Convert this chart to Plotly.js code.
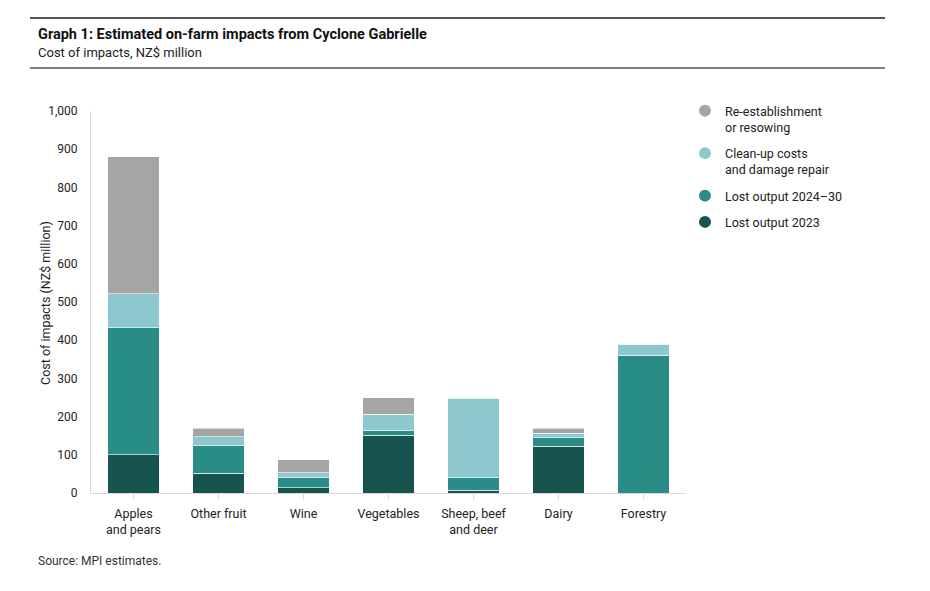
<!DOCTYPE html>
<html><head><meta charset="utf-8">
<script src="https://cdn.plot.ly/plotly-3.0.1.min.js"></script>
<style>body{margin:0;background:#fff}#c{width:930px;height:591px}</style>
</head><body><div id="c"></div>
<script>
const categories = ["Apples<br>and pears","Other fruit","Wine","Vegetables","Sheep, beef<br>and deer","Dairy","Forestry"];
const lostOutput2023 = [100, 52, 14, 151, 7, 122, 0];
const lostOutput2024_30 = [332, 72, 26, 12, 33, 23, 361];
const cleanUp = [89, 23, 13, 43, 208, 11, 29];
const reEstablishment = [359, 22, 34, 44, 0, 13, 0];
const seriesNames = ["Lost output 2023","Lost output 2024–30","Clean-up costs<br>and damage repair","Re-establishment<br>or resowing"];
const colors = ["#18544f","#2a8c86","#8cc8ce","#a5a5a5"];
const values = [lostOutput2023, lostOutput2024_30, cleanUp, reEstablishment];

const FONT = "Roboto, 'Noto Sans', sans-serif";
const traces = [];
values.forEach((v,i)=>{
  traces.push({type:'bar', x:categories, y:v, name:seriesNames[i], showlegend:false,
    marker:{color:colors[i], line:{color:'rgba(255,255,255,0.6)', width:1}}, hoverinfo:'x+y+name'});
});
// legend entries (circle markers), top-down = last series first
for (let i = values.length-1; i >= 0; i--) {
  traces.push({type:'scatter', mode:'markers', x:[null], y:[null], name:seriesNames[i], legendgroup:'g'+i,
    marker:{color:colors[i], size:12, symbol:'circle'}, showlegend:true, hoverinfo:'skip'});
}

const px = x => (x-91)/595;
const py = y => (493-y)/382;

const layout = {
  width:930, height:591,
  margin:{l:91, r:244, t:111, b:98},
  paper_bgcolor:'#fff', plot_bgcolor:'#fff',
  barmode:'stack', bargap:0.39,
  font:{family:FONT, size:12, color:'#222'},
  xaxis:{type:'category', showgrid:false, showline:true, linecolor:'#d9d9d9', linewidth:1,
    ticks:'outside', tickcolor:'#d9d9d9', ticklen:6, ticklabelstandoff:3, tickfont:{size:12.5, color:'#222'}, fixedrange:true},
  yaxis:{range:[0,1000], tickvals:[0,100,200,300,400,500,600,700,800,900,1000],
    ticktext:["0","100","200","300","400","500","600","700","800","900","1,000"],
    showgrid:false, zeroline:false, showline:true, linecolor:'#d9d9d9', linewidth:1, ticks:'',
    ticklabelstandoff:10,
    tickfont:{size:12, color:'#222'}},
  legend:{x:px(685), y:py(96), xanchor:'left', yanchor:'top', traceorder:'grouped', valign:'top',
    font:{size:12.5, color:'#222'}, itemwidth:30, tracegroupgap:7, bgcolor:'rgba(0,0,0,0)'},
  shapes:[
    {type:'line', xref:'paper', yref:'paper', x0:px(30), x1:px(885), y0:py(18), y1:py(18), line:{color:'#555', width:2}},
    {type:'line', xref:'paper', yref:'paper', x0:px(30), x1:px(885), y0:py(68), y1:py(68), line:{color:'#555', width:1.5}}
  ],
  annotations:[
    {xref:'paper', yref:'paper', x:px(36), y:py(35), xanchor:'left', yanchor:'middle', showarrow:false,
      text:'<b>Graph 1: Estimated on-farm impacts from Cyclone Gabrielle</b>', font:{size:14.5, color:'#111'}},
    {xref:'paper', yref:'paper', x:px(36), y:py(53), xanchor:'left', yanchor:'middle', showarrow:false,
      text:'Cost of impacts, NZ$ million', font:{size:13, color:'#222'}},
    {xref:'paper', yref:'paper', x:px(36), y:py(561), xanchor:'left', yanchor:'middle', showarrow:false,
      text:'Source: MPI estimates.', font:{size:12, color:'#333'}},
    {xref:'paper', yref:'paper', x:px(45), y:py(303), xanchor:'center', yanchor:'middle', showarrow:false, textangle:-90,
      text:'Cost of impacts (NZ$ million)', font:{size:12.5, color:'#222'}}
  ]
};
Plotly.newPlot('c', traces, layout, {displayModeBar:false, staticPlot:true});
</script></body></html>
